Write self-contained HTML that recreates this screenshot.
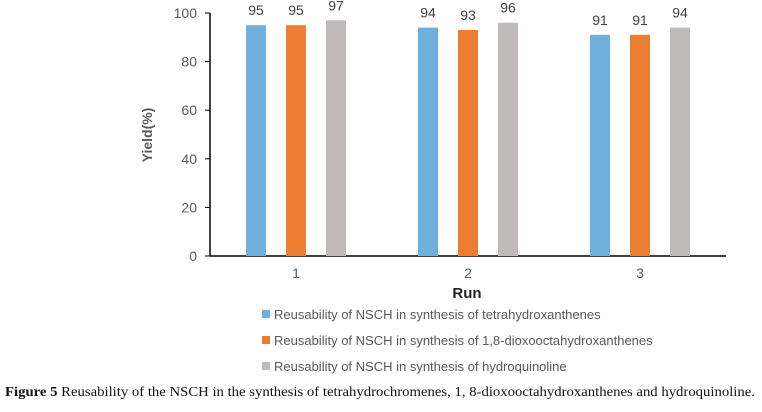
<!DOCTYPE html>
<html><head><meta charset="utf-8"><style>
body{margin:0;background:#fff;width:762px;height:407px;overflow:hidden;font-family:"Liberation Sans",sans-serif}
</style></head><body>
<svg width="762" height="407" id="c">
<g id="plot"></g>
<text x="152" y="135" transform="rotate(-90 152 135)" text-anchor="middle" font-size="14" font-weight="bold" fill="#595959">Yield(%)</text>
<text x="467" y="298" text-anchor="middle" font-size="15" font-weight="bold" fill="#222">Run</text>
<g font-size="13" fill="#595959">
<rect x="262" y="310" width="8" height="8" fill="#6FB0DC"/>
<text x="274" y="319">Reusability of NSCH in synthesis of tetrahydroxanthenes</text>
<rect x="262" y="336" width="8" height="8" fill="#ED7D31"/>
<text x="274" y="345">Reusability of NSCH in synthesis of 1,8-dioxooctahydroxanthenes</text>
<rect x="262" y="362" width="8" height="8" fill="#BFBBBA"/>
<text x="274" y="371">Reusability of NSCH in synthesis of hydroquinoline</text>
</g>
<text x="5" y="396" font-family="Liberation Serif,serif" font-size="13.5" fill="#111" textLength="750" lengthAdjust="spacingAndGlyphs"><tspan font-weight="bold">Figure 5</tspan>  Reusability of the NSCH in the synthesis of tetrahydrochromenes, 1, 8-dioxooctahydroxanthenes and hydroquinoline.</text>
</svg>
<script>
const categories=["1","2","3"];
const seriesTetra=[95,94,91];
const seriesDioxo=[95,93,91];
const seriesHydro=[97,96,94];
const yTicks=[0,20,40,60,80,100];
const NS="http://www.w3.org/2000/svg";
const g=document.getElementById('plot');
const x0=210,x1=726,yTop=13,yBot=256;
const y=v=>yBot-(v/100)*(yBot-yTop);
const band=(x1-x0)/categories.length;
const xc=i=>x0+band*(i+0.5);
function mk(t,a){const e=document.createElementNS(NS,t);for(const k in a)e.setAttribute(k,a[k]);g.appendChild(e);return e;}
yTicks.forEach(v=>{
 const l=mk('line',{x1:x0-5,x2:x0,y1:y(v),y2:y(v),stroke:'#000'});
 
 
 const t=mk('text',{x:x0-13,y:y(v)+5,'text-anchor':'end','font-size':14,fill:'#595959'});
 t.textContent=v;
 
 
});
const ya=mk('line',{x1:x0,x2:x0,y1:yTop,y2:yBot,stroke:'#000','stroke-width':1.5});


const xa=mk('line',{x1:x0,x2:x1,y1:yBot,y2:yBot,stroke:'#000','stroke-width':1.5});


const series=[[seriesTetra,'#6FB0DC','tetra'],[seriesDioxo,'#ED7D31','dioxo'],[seriesHydro,'#BFBBBA','hydro']];
categories.forEach((c,i)=>{
 const t=mk('text',{x:xc(i),y:278,'text-anchor':'middle','font-size':14,fill:'#595959'});
 t.textContent=c;
 
 
 series.forEach((s,j)=>{
  const bx=xc(i)+(j-1)*40-10;
  const r=mk('rect',{x:bx,y:y(s[0][i]),width:20,height:yBot-y(s[0][i]),fill:s[1]});
  
  
  const lt=mk('text',{x:bx+10,y:y(s[0][i])-10,'text-anchor':'middle','font-size':14,fill:'#404040'});
  lt.textContent=s[0][i];
  
  
 });
});
</script>
</body></html>
